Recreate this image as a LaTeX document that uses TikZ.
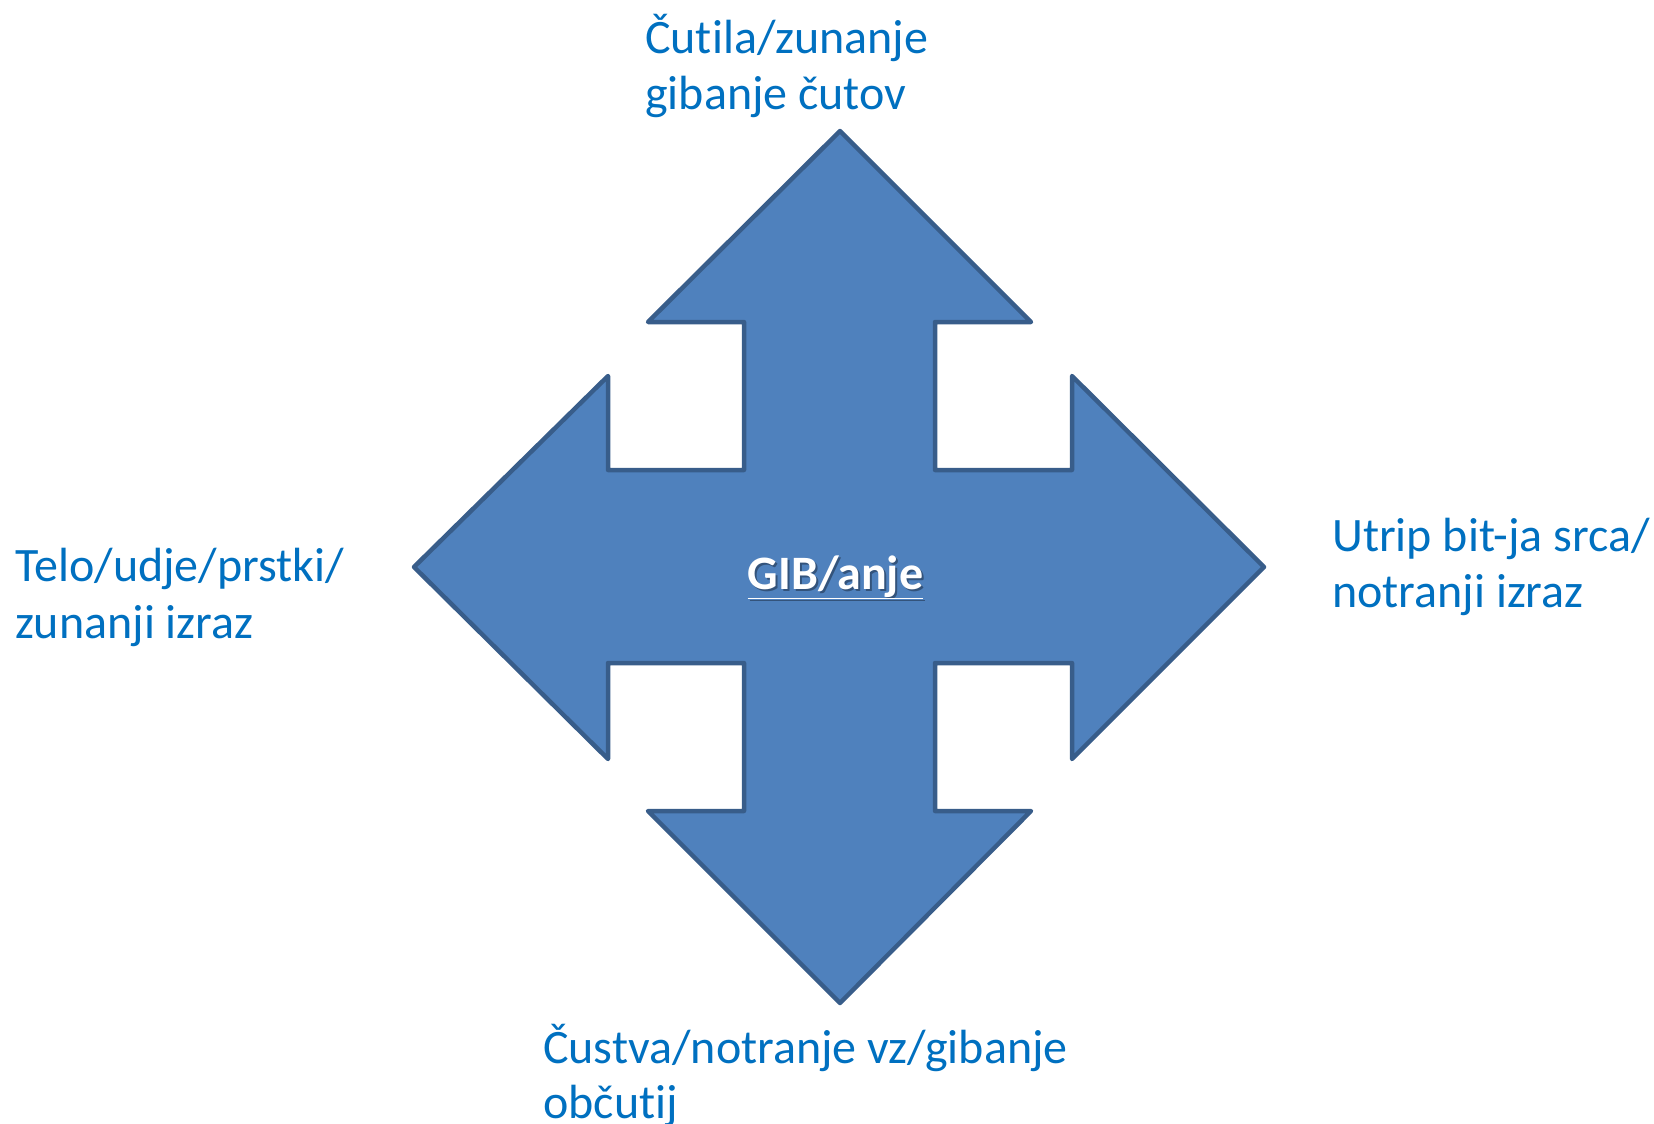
\documentclass[tikz,border=0pt]{standalone}
\usepackage{fontspec}
\setmainfont[Ligatures=NoCommon]{Carlito}
\definecolor{arrowfill}{HTML}{4F81BD}
\definecolor{arrowline}{HTML}{385D8A}
\definecolor{labelblue}{HTML}{0070C0}
\tikzset{
  lbl/.style={anchor=base west, inner sep=0pt, text=labelblue, font=\fontsize{48}{57}\selectfont},
  ctr/.style={anchor=base, inner sep=0pt, font=\fontsize{48}{57}\selectfont\bfseries},
  bigarrow/.style={fill=arrowfill, draw=arrowline, line width=4.5pt, line join=round}
}
\begin{document}
\begin{tikzpicture}[x=1pt,y=-1pt]
\useasboundingbox (0,0) rectangle (1654,1124);
\draw[bigarrow] (840,131) -- (1031,322) -- (935,322) -- (935,470) -- (1072,470) -- (1072,376)
  -- (1264,567) -- (1072,759) -- (1072,663) -- (935,663) -- (935,811) -- (1031,811)
  -- (840,1003) -- (648,811) -- (744,811) -- (744,663) -- (608,663) -- (608,759)
  -- (414,567) -- (608,376) -- (608,470) -- (744,470) -- (744,322) -- (648,322) -- cycle;
\node[ctr, text=black, opacity=0.35] (cshadow) at (837.5,591) {\underline{GIB/anje}};
\node[ctr, text=white] (center) at (835.5,589) {\underline{GIB/anje}};
\node[lbl] (top1) at (645,53) {Čutila/zunanje};
\node[lbl] (top2) at (645,109) {gibanje čutov};
\node[lbl] (left1) at (15,581) {Telo/udje/prstki/};
\node[lbl] (left2) at (15,638) {zunanji izraz};
\node[lbl] (right1) at (1332,551) {Utrip bit-ja srca/};
\node[lbl] (right2) at (1332,607) {notranji izraz};
\node[lbl] (bot1) at (543,1063) {Čustva/notranje vz/gibanje};
\node[lbl] (bot2) at (543,1118) {občutij};
\end{tikzpicture}
\end{document}
